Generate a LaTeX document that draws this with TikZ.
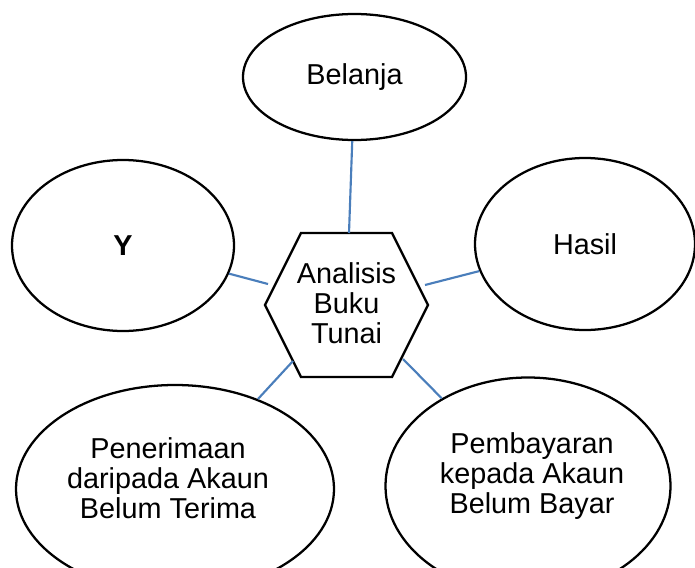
\documentclass[tikz,border=0pt]{standalone}
\usepackage{fontspec}
\setmainfont{Liberation Sans}
\usetikzlibrary{shapes.geometric}
\definecolor{linkblue}{RGB}{74,126,187}
\begin{document}
\begin{tikzpicture}[x=0.75pt,y=-0.75pt,
  bubble/.style={ellipse,draw=black,line width=1.7pt,inner sep=0pt},
  txtbox/.style={align=center,font=\fontsize{21.6}{22.5}\selectfont,inner sep=0pt},
  link/.style={draw=linkblue,line width=1.6pt},
  hexline/.style={draw=black,line width=1.7pt,line join=miter}]
\useasboundingbox (0,0) rectangle (695,567);
% ellipses
\node[bubble,txtbox,minimum width=167.25pt,minimum height=94.5pt] (bel) at (354.5,77) {Belanja};
\node[bubble,txtbox,minimum width=166.5pt,minimum height=128.25pt] (y) at (123,245.5) {\textbf{Y}};
\node[bubble,txtbox,minimum width=165pt,minimum height=129pt] (has) at (585,244) {Hasil};
\node[bubble,minimum width=238.5pt,minimum height=156pt] (pen) at (175,489) {};
\node[txtbox] (penT) at (168,478) {Penerimaan\\daripada Akaun\\Belum Terima};
\node[bubble,minimum width=213.75pt,minimum height=162.75pt] (pem) at (528,486) {};
\node[txtbox] (pemT) at (532,476) {Pembayaran\\kepada Akaun\\Belum Bayar};
% hexagon
\draw[hexline] (301,233) -- (392,233) -- (428,305) -- (392,377) -- (301,377) -- (265,305) -- cycle;
\node[txtbox] (hex) at (346.5,303.5) {Analisis\\Buku\\Tunai};
% connector ends on the hexagon
\coordinate (hT) at (349,233);
\coordinate (hW) at (268,284);
\coordinate (hE) at (425,285);
\coordinate (hSW) at (293,361);
\coordinate (hSE) at (403,359);
% connectors
\draw[link] (bel) -- (hT);
\draw[link] (y) -- (hW);
\draw[link] (has) -- (hE);
\draw[link] (pen) -- (hSW);
\draw[link] (pem) -- (hSE);
\end{tikzpicture}
\end{document}
